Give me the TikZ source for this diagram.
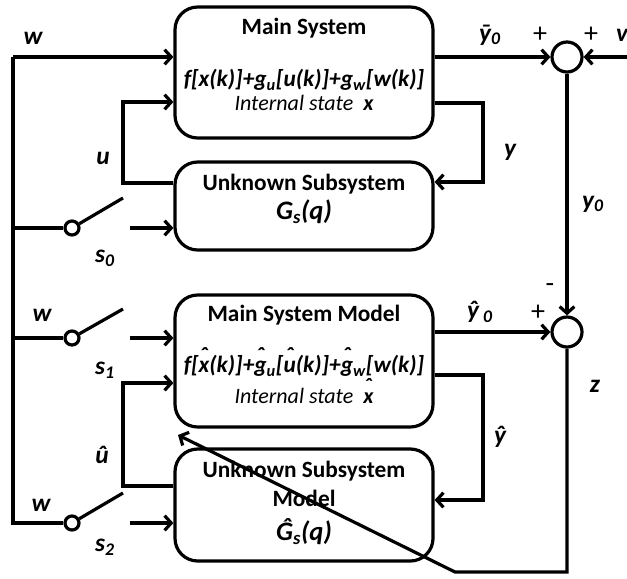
\documentclass[tikz,border=0pt]{standalone}
\usepackage{fontspec}
\setmainfont{Carlito}
\usetikzlibrary{arrows.meta}

\newsavebox{\hatbox}
\newcommand{\hatover}[1]{\sbox{\hatbox}{#1}\makebox[\wd\hatbox]{\makebox[0pt]{\raisebox{0.42em}{\char"02C6}}}\kern-\wd\hatbox\usebox{\hatbox}}

\tikzset{
  block/.style={draw, line width=2.4pt, rounded corners=17pt, minimum width=193.5pt},
  ttl/.style={font=\fontsize{17.5}{19}\selectfont\bfseries},
  fml/.style={font=\fontsize{17.5}{19}\selectfont\bfseries\itshape},
  itx/.style={font=\fontsize{16.5}{18}\selectfont\itshape},
  bigl/.style={font=\fontsize{20}{22}\selectfont\bfseries\itshape},
  lbl/.style={font=\fontsize{19}{21}\selectfont\bfseries\itshape},
  pm/.style={font=\fontsize{21}{23}\selectfont},
  sum/.style={draw, circle, line width=2.4pt, minimum size=22.5pt, inner sep=0pt},
  swc/.style={draw, circle, line width=2.4pt, minimum size=10.5pt, inner sep=0pt},
}

\begin{document}
\begin{tikzpicture}[x=0.75pt, y=-0.75pt, line width=2.4pt, >={Straight Barb[length=5pt,width=11pt]}]
  \useasboundingbox (0,0) rectangle (627,578);

  % blocks
  \node[block, minimum height=98.25pt] (ms) at (304,72.5) {};
  \node[block, minimum height=66pt] (us) at (304,206) {};
  \node[block, minimum height=99pt] (mm) at (304,361) {};
  \node[block, minimum height=84pt] (um) at (304,505) {};

  \node[ttl] (mst) at (304,28) {Main System};
  \node[fml] (msf) at (304,80) {f[x(k)]+g\textsubscript{u}[u(k)]+g\textsubscript{w}[w(k)]};
  \node[itx] (mss) at (304,103) {Internal state\ \ \textbf{x}};

  \node[ttl] (ust) at (304,184) {Unknown Subsystem};
  \node[bigl] (usg) at (304,212) {G\textsubscript{s}(q)};

  \node[ttl] (mmt) at (304,315) {Main System Model};
  \node[fml] (mmf) at (304,362) {f[\hatover{x}(k)]+\hatover{g}\textsubscript{u}[\hatover{u}(k)]+\hatover{g}\textsubscript{w}[w(k)]};
  \node[itx] (mms) at (304,391) {Internal state\ \ \textbf{\hatover{x}}};

  \node[ttl] (umt) at (304,471) {Unknown Subsystem};
  \node[ttl] (umm) at (304,498) {Model};
  \node[bigl] (umg) at (304,532) {\^{G}\textsubscript{s}(q)};

  % summing points and switches
  \node[sum] (sa) at (567,57) {};
  \node[sum] (sb) at (567,332) {};
  \node[swc] (s0c) at (72,228) {};
  \node[swc] (s1c) at (72,338) {};
  \node[swc] (s2c) at (72,523) {};

  \coordinate (bt) at (13,57);
  \coordinate (b0) at (13,228);
  \coordinate (b1) at (13,338);
  \coordinate (bb) at (13,523);
  \coordinate (s0e) at (123,198);
  \coordinate (s1e) at (123,309);
  \coordinate (s2e) at (123,493);
  \coordinate (s0o) at (130,228);
  \coordinate (s1o) at (130,338);
  \coordinate (s2o) at (130,523);
  \coordinate (ua) at (123,183);
  \coordinate (ub) at (123,102);
  \coordinate (uha) at (123,486);
  \coordinate (uhb) at (123,383);
  \coordinate (ya) at (483,103);
  \coordinate (yb) at (483,182);
  \coordinate (yha) at (483,375);
  \coordinate (yhb) at (483,500);
  \coordinate (vin) at (630,57);
  \coordinate (zc) at (567,572);
  \coordinate (zl) at (455,572);
  \coordinate (zt) at (178,435);

  % inputs
  \draw[->] (bt) -- (ms.west |- bt);
  \draw (bt) -- (bb) -- (s2c);
  \draw (b0) -- (s0c);
  \draw (b1) -- (s1c);
  \draw (s0c) -- (s0e);
  \draw (s1c) -- (s1e);
  \draw (s2c) -- (s2e);
  \draw[->] (s0o) -- (us.west |- s0o);
  \draw[->] (s1o) -- (mm.west |- s1o);
  \draw[->] (s2o) -- (um.west |- s2o);
  \draw[->] (us.west |- ua) -- (ua) -- (ub) -- (ms.west |- ub);
  \draw[->] (um.west |- uha) -- (uha) -- (uhb) -- (mm.west |- uhb);

  % outputs
  \draw[->] (ms.east |- ya) -- (ya) -- (yb) -- (us.east |- yb);
  \draw[->] (mm.east |- yha) -- (yha) -- (yhb) -- (um.east |- yhb);
  \draw[->] (ms.east |- sa) -- (sa);
  \draw[->] (vin) -- (sa);
  \draw[->] (sa) -- (sb);
  \draw[->] (mm.east |- sb) -- (sb);
  \draw[->] (sb) -- (zc) -- (zl) -- (zt);

  % labels
  \node[lbl] (lw0) at (33,38) {w};
  \node[lbl] (lu) at (103,158) {u};
  \node[lbl] (ls0) at (105,258) {s\textsubscript{0}};
  \node[lbl] (lw1) at (42,315) {w};
  \node[lbl] (ls1) at (105,370) {s\textsubscript{1}};
  \node[lbl] (luh) at (102,455) {û};
  \node[lbl] (lw2) at (41,505) {w};
  \node[lbl] (ls2) at (105,547) {s\textsubscript{2}};
  \node[lbl] (lyb) at (490,35) {\={y}\textsubscript{0}};
  \node[pm] (pa) at (540,35) {+};
  \node[pm] (pb) at (591,35) {+};
  \node[lbl] (lv) at (622,35) {v};
  \node[lbl] (ly) at (510,152) {y};
  \node[lbl] (ly0) at (593,204) {y\textsubscript{0}};
  \node[pm] (pc) at (550,288) {-};
  \node[pm] (pd) at (538,313) {+};
  \node[lbl] (lyh0) at (480,312) {\^{y}\,\textsubscript{0}};
  \node[lbl] (lz) at (595,386) {z};
  \node[lbl] (lyh) at (500,437) {\^{y}};
\end{tikzpicture}
\end{document}
